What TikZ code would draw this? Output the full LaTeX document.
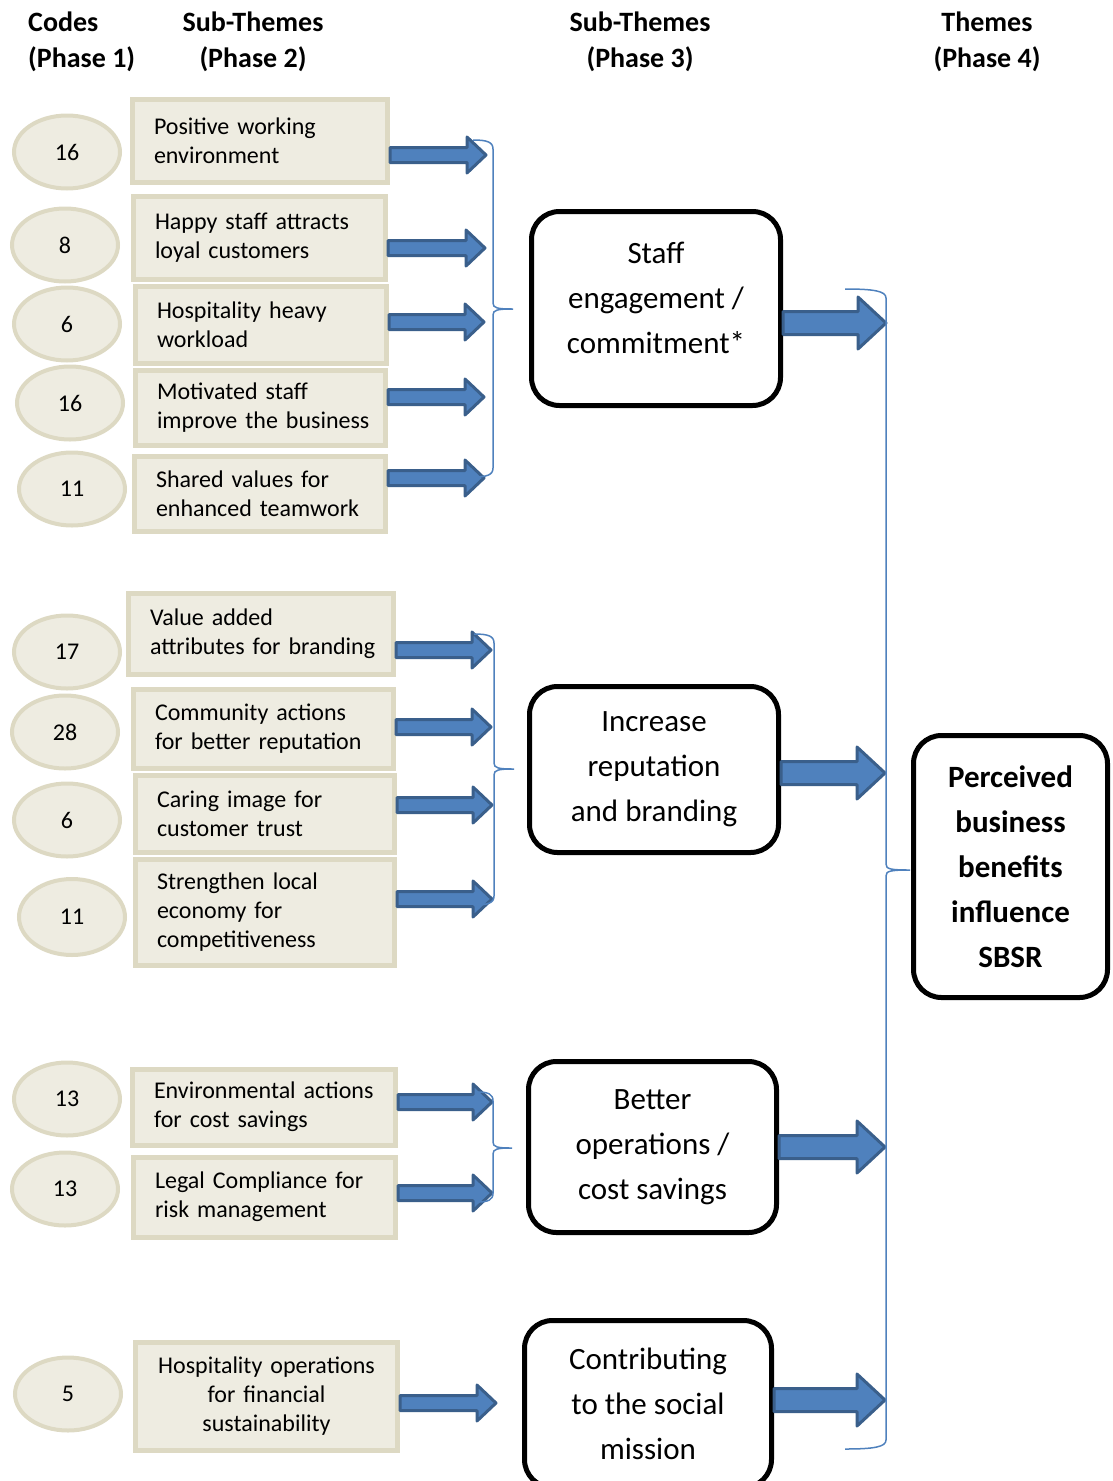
\documentclass[tikz,border=0pt]{standalone}
\usepackage{fontspec}
\setmainfont{Carlito}
\usetikzlibrary{shapes.geometric,calc}
\definecolor{boxfill}{HTML}{EEECE1}
\definecolor{boxedge}{HTML}{DDD9C3}
\definecolor{arrfill}{HTML}{4F81BD}
\definecolor{arredge}{HTML}{3A5F8B}
\definecolor{bracecol}{HTML}{4F81BD}
\hfuzz=100pt
\hbadness=10000
\tikzset{
  code/.style={ellipse, fill=boxfill, draw=boxedge, line width=4pt, minimum width=106pt, minimum height=73pt, inner sep=0pt, font=\fontsize{24}{29}\selectfont},
  sub/.style={rectangle, fill=boxfill, draw=boxedge, line width=5pt, align=left, inner xsep=21.5pt, inner ysep=0pt, font=\fontsize{24}{29}\selectfont},
  theme/.style={rectangle, rounded corners=28pt, draw=black, line width=5pt, fill=white, inner sep=0pt},
  themetext/.style={align=center, inner sep=0pt, font=\fontsize{31}{45}\selectfont},
  head/.style={inner sep=0pt, font=\fontsize{28}{36}\selectfont\bfseries},
  blockarrow/.style={fill=arrfill, draw=arredge, line width=3pt, line join=round},
  bracestyle/.style={draw=bracecol, line width=1.5pt}
}
% from, to, shaft half height, head length, head half height
\newcommand\blockarr[5]{%
  \filldraw[blockarrow] let \p1=(#1), \p2=(#2) in
    (\x1,\y1+#3pt) -- (\x2-#4pt,\y1+#3pt) -- (\x2-#4pt,\y1+#5pt) -- (\x2,\y1)
    -- (\x2-#4pt,\y1-#5pt) -- (\x2-#4pt,\y1-#3pt) -- (\x1,\y1-#3pt) -- cycle;}
% x, top, mid, bottom, arm length, tip length
\newcommand\mybrace[6]{%
  \draw[bracestyle] (#1-#5,#2) .. controls (#1-#5*0.3,#2) and (#1,#2+2) .. (#1,#2+9)
    -- (#1,#3-6) .. controls (#1,#3-1) and (#1+4,#3) .. (#1+#6,#3)
    .. controls (#1+4,#3) and (#1,#3+1) .. (#1,#3+6)
    -- (#1,#4-9) .. controls (#1,#4-2) and (#1-#5*0.3,#4) .. (#1-#5,#4);}
\begin{document}
\begin{tikzpicture}[x=1pt,y=-1pt]
\useasboundingbox (0,0) rectangle (1112,1481);

% headers
\node[head, anchor=west, align=left] (h1) at (28,42) {Codes\\(Phase 1)};
\node[head, align=center] (h2) at (253,42) {Sub-Themes\\(Phase 2)};
\node[head, align=center] (h3) at (640,42) {Sub-Themes\\(Phase 3)};
\node[head, align=center] (h4) at (987,42) {Themes\\(Phase 4)};

% codes
\node[code] (e1) at (67,152) {16};
\node[code] (e2) at (65,245) {8};
\node[code] (e3) at (67,324) {6};
\node[code] (e4) at (70,403) {16};
\node[code] (e5) at (72,489) {11};
\node[code] (e6) at (67,652) {17};
\node[code] (e7) at (65,732) {28};
\node[code] (e8) at (67,820) {6};
\node[code, minimum height=76pt] (e9) at (72,917) {11};
\node[code] (e10) at (67,1099) {13};
\node[code] (e11) at (65,1189) {13};
\node[code] (e12) at (68,1394) {5};

% sub-themes phase 2
\node[sub, minimum width=255pt, minimum height=83pt, text width=212pt] (b1) at (260,141) {\mbox{Positive working}\\\mbox{environment}};
\node[sub, minimum width=252pt, minimum height=83pt, text width=209pt] (b2) at (259.5,238) {\mbox{Happy staff attracts}\\\mbox{loyal customers}};
\node[sub, minimum width=251pt, minimum height=77pt, text width=208pt] (b3) at (261,325) {\mbox{Hospitality heavy}\\\mbox{workload}};
\node[sub, minimum width=250pt, minimum height=75pt, text width=207pt] (b4) at (260.5,408) {\mbox{Motivated staff}\\\mbox{improve the business}};
\node[sub, minimum width=251pt, minimum height=75pt, text width=208pt] (b5) at (260,494) {\mbox{Shared values for}\\\mbox{enhanced teamwork}};
\node[sub, minimum width=265pt, minimum height=81pt, text width=222pt] (b6) at (261,634) {\mbox{Value added}\\\mbox{attributes for branding}};
\node[sub, minimum width=260pt, minimum height=79pt, text width=217pt] (b7) at (263.5,729) {\mbox{Community actions}\\\mbox{for better reputation}};
\node[sub, minimum width=259pt, minimum height=77pt, text width=216pt] (b8) at (265,814) {\mbox{Caring image for}\\\mbox{customer trust}};
\node[sub, minimum width=259pt, minimum height=106pt, text width=216pt] (b9) at (265,912) {\mbox{Strengthen local}\\\mbox{economy for}\\\mbox{competitiveness}};
\node[sub, minimum width=263pt, minimum height=76pt, text width=220pt] (b10) at (264,1107) {\mbox{Environmental actions}\\\mbox{for cost savings}};
\node[sub, minimum width=262pt, minimum height=80pt, text width=219pt] (b11) at (264.5,1197) {\mbox{Legal Compliance for}\\\mbox{risk management}};
\node[sub, align=center, minimum width=262pt, minimum height=108pt, text width=219pt] (b12) at (266.5,1396) {Hospitality operations\\for financial\\sustainability};

% phase 3 boxes
\node[theme, minimum width=249pt, minimum height=194pt] (A) at (656,308.5) {};
\node[themetext] (At) at (656,298) {Staff\\engagement /\\commitment*};
\node[theme, themetext, minimum width=249pt, minimum height=166pt] (B) at (654,769.5) {Increase\\reputation\\and branding};
\node[theme, themetext, minimum width=248pt, minimum height=171pt] (C) at (652.5,1147) {Better\\operations /\\cost savings};
\node[theme, themetext, minimum width=247pt, minimum height=167pt] (D) at (648,1404) {Contributing\\to the social\\mission};

% phase 4
\node[theme, themetext, font=\fontsize{31}{45}\selectfont\bfseries, minimum width=194pt, minimum height=262pt] (E) at (1010.5,866.5) {Perceived\\business\\benefits\\influence\\SBSR};

% small arrow tips
\coordinate (t1) at (486,155);
\coordinate (t2) at (485,248);
\coordinate (t3) at (484,322);
\coordinate (t4) at (484,397);
\coordinate (t5) at (484,478);
\coordinate (t6) at (491,650);
\coordinate (t7) at (491,727);
\coordinate (t8) at (492,805);
\coordinate (t9) at (492,899);
\coordinate (t10) at (492,1102);
\coordinate (t11) at (492,1193);
\coordinate (t12) at (496,1403);
\foreach \i in {1,...,12}{
  \coordinate (s\i) at (b\i.east |- t\i);
}
\foreach \i in {1,...,12}{
  \blockarr{s\i}{t\i}{7.5}{19}{18}
}

% large arrows
\coordinate (TA) at (886,323);
\coordinate (TB) at (885,773);
\coordinate (TC) at (885,1147);
\coordinate (TD) at (885,1400);
\coordinate (SA) at (A.east |- TA);
\coordinate (SB) at (B.east |- TB);
\coordinate (SC) at (C.east |- TC);
\coordinate (SD) at (D.east |- TD);
\blockarr{SA}{TA}{11.5}{28}{26}
\blockarr{SB}{TB}{11.5}{28}{26}
\blockarr{SC}{TC}{11.5}{28}{26}
\blockarr{SD}{TD}{11.5}{28}{26}

% braces
\mybrace{493}{140}{309}{477}{20}{20}
\mybrace{494}{634}{769}{905}{20}{20}
\mybrace{493}{1092}{1148}{1202}{16}{19}
\mybrace{886}{289}{870}{1449}{41}{24}
\end{tikzpicture}
\end{document}
